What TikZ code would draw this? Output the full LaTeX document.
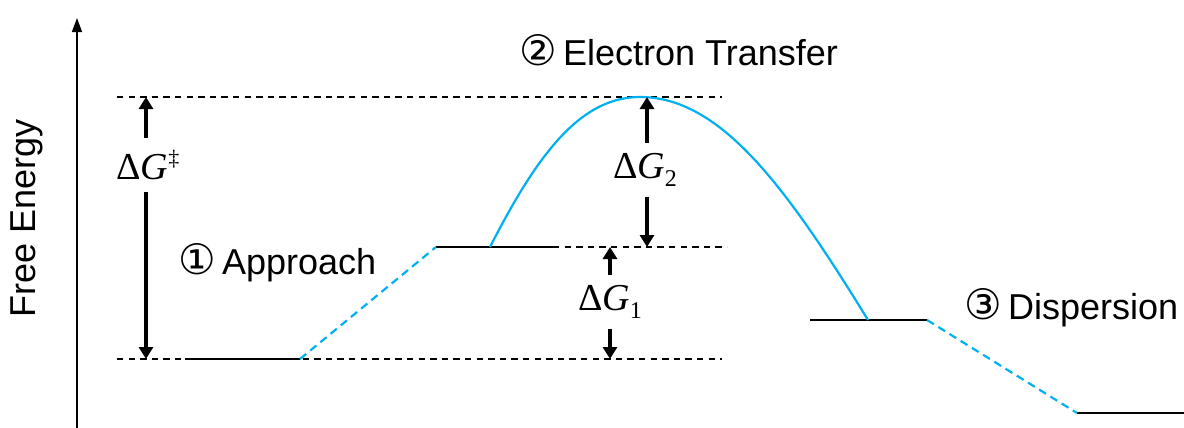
\documentclass[tikz,border=0pt]{standalone}
\usepackage{fontspec}
\setmainfont{Liberation Sans}
\newfontfamily\circfont{DejaVu Sans}
\newfontfamily\serifmath{Liberation Serif}
\usetikzlibrary{arrows.meta}
\definecolor{pathblue}{RGB}{0,176,240}
\begin{document}
\begin{tikzpicture}[x=0.5pt,y=-0.5pt,
  level/.style={line width=1.3pt,black},
  guide/.style={line width=0.7pt,black,dash pattern=on 3.2pt off 2.6pt},
  blueline/.style={line width=1.1pt,pathblue},
  bluedash/.style={line width=1.1pt,pathblue,dash pattern=on 4pt off 2.6pt},
  arr/.style={line width=1.6pt,-{Triangle[length=6pt,width=7pt]}},
  axisarr/.style={line width=0.7pt,-{Triangle[length=7pt,width=5pt]}},
  lab/.style={font=\fontsize{18pt}{20pt}\selectfont,inner sep=0pt},
  glab/.style={font=\fontsize{19pt}{21pt}\selectfont,inner xsep=0pt}]
\useasboundingbox (0,0) rectangle (1184,428);
% axis
\coordinate (ax0) at (77,428);
\coordinate (ax1) at (77,18);
\draw[axisarr] (ax0) -- (ax1);
\node[lab,rotate=90] (fe) at (27,218) {Free Energy};
% guide lines
\coordinate (t0) at (117,97);  \coordinate (t1) at (722,97);
\coordinate (b0) at (117,359); \coordinate (b1) at (722,359);
\coordinate (m0) at (553,247); \coordinate (m1) at (727,247);
\draw[guide] (t0) -- (t1);
\draw[guide] (b0) -- (b1);
\draw[guide] (m0) -- (m1);
% levels
\coordinate (l1a) at (185,359); \coordinate (l1b) at (300,359);
\coordinate (l2a) at (436,247); \coordinate (l2b) at (553,247);
\coordinate (l3a) at (810,320); \coordinate (l3b) at (927,320);
\coordinate (l4a) at (1077,413); \coordinate (l4b) at (1184,413);
\draw[level] (l1a) -- (l1b);
\draw[level] (l2a) -- (l2b);
\draw[level] (l3a) -- (l3b);
\draw[level] (l4a) -- (l4b);
% paths
\coordinate (cs) at (490,247);
\coordinate (pk) at (640,97);
\coordinate (ce) at (868,320);
\draw[bluedash] (l1b) -- (l2a);
\draw[blueline] (cs) .. controls (537,155) and (580,97) .. (pk)
  .. controls (720,97) and (785,185) .. (ce);
\draw[bluedash] (l3b) -- (l4a);
% Delta G double dagger
\coordinate (gt) at (146,97);
\coordinate (gb) at (146,359);
\node[glab,inner ysep=6pt] (dgd) at (148,165) {{\serifmath Δ\textit{G}\raisebox{7pt}{\fontsize{11pt}{11pt}\selectfont ‡}}};
\draw[arr] (dgd.north -| gt) -- (gt);
\draw[arr] (dgd.south -| gt) -- (gb);
% Delta G2
\coordinate (g2t) at (647,97);
\coordinate (g2b) at (647,247);
\node[glab,inner ysep=5pt] (dg2) at (645,170) {{\serifmath Δ\textit{G}\raisebox{-4pt}{\fontsize{12pt}{12pt}\selectfont 2}}};
\draw[arr] (dg2.north -| g2t) -- (g2t);
\draw[arr] (dg2.south -| g2t) -- (g2b);
% Delta G1
\coordinate (g1t) at (610,247);
\coordinate (g1b) at (610,359);
\node[glab,inner ysep=5pt] (dg1) at (610,302) {{\serifmath Δ\textit{G}\raisebox{-4pt}{\fontsize{12pt}{12pt}\selectfont 1}}};
\draw[arr] (dg1.north -| g1t) -- (g1t);
\draw[arr] (dg1.south -| g1t) -- (g1b);
% step labels
\node[lab,anchor=west] (s1) at (178,263) {{\circfont\fontsize{21pt}{20pt}\selectfont ①}\,Approach};
\node[lab,anchor=west] (s2) at (519,50) {{\circfont\fontsize{21pt}{20pt}\selectfont ②}\,Electron Transfer};
\node[lab,anchor=west] (s3) at (964,308) {{\circfont\fontsize{21pt}{20pt}\selectfont ③}\,Dispersion};
\end{tikzpicture}
\end{document}
